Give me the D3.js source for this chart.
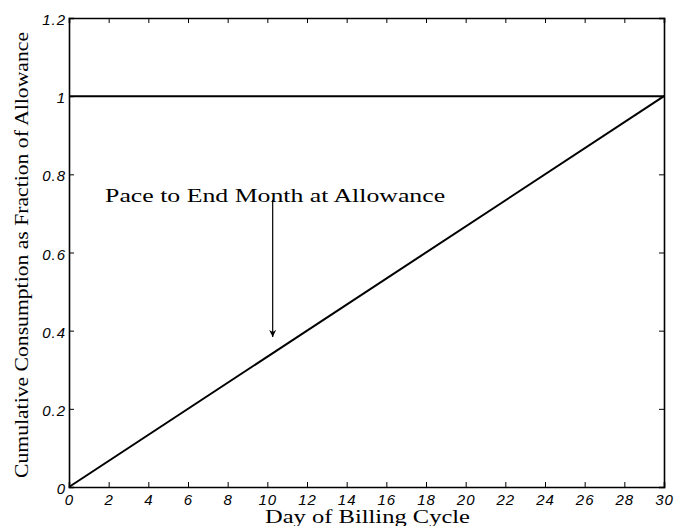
<!DOCTYPE html>
<html>
<head>
<meta charset="utf-8">
<script src="https://cdn.jsdelivr.net/npm/d3@7"></script>
<style>
  html, body { margin: 0; padding: 0; background: #fff; }
  svg { display: block; }
</style>
</head>
<body>
<svg id="chart" width="675" height="526"></svg>
<script>
// ---- data ----
const days = [0, 30];
const allowanceLine = [1, 1];
const paceLine = [0, 1];
const xTicks = [0, 2, 4, 6, 8, 10, 12, 14, 16, 18, 20, 22, 24, 26, 28, 30];
const yTicks = [0, 0.2, 0.4, 0.6, 0.8, 1, 1.2];
const yTickLabels = ["0", "0.2", "0.4", "0.6", "0.8", "1", "1.2"];
const annotationText = ["Pace to End Month at Allowance"];
const annotationPos = [1.82, 0.73];      // text start (day, fraction)
const arrowFrom = [10.27, 0.735];
const arrowTo = [10.27, 0.384];
const xTitle = "Day of Billing Cycle";
const yTitle = "Cumulative Consumption as Fraction of Allowance";

// ---- layout ----
const svg = d3.select("#chart");
const L = 69, R = 664, T = 18, B = 487;
const x = d3.scaleLinear().domain([0, 30]).range([L, R]);
const y = d3.scaleLinear().domain([0, 1.2]).range([B, T]);

const defs = svg.append("defs");
defs.append("marker")
  .attr("id", "arrow").attr("viewBox", "0 0 10 10")
  .attr("refX", 10).attr("refY", 5)
  .attr("markerWidth", 10).attr("markerHeight", 7)
  .attr("markerUnits", "userSpaceOnUse")
  .attr("orient", "auto")
  .append("path").attr("d", "M0,0 L10,5 L0,10 L3,5 Z").attr("fill", "#000");

// axes (ticks inward)
const tickLen = 5;

const gx = svg.append("g").attr("transform", `translate(0,${B})`)
  .call(d3.axisBottom(x).tickValues(xTicks).tickSize(-tickLen).tickPadding(8).tickFormat(d3.format("d")));
const gxTop = svg.append("g").attr("transform", `translate(0,${T})`)
  .call(d3.axisTop(x).tickValues(xTicks).tickSize(-tickLen).tickFormat(""));
const gy = svg.append("g").attr("transform", `translate(${L},0)`)
  .call(d3.axisLeft(y).tickValues(yTicks).tickSize(-tickLen).tickPadding(3).tickFormat((d, i) => yTickLabels[i]));
const gyR = svg.append("g").attr("transform", `translate(${R},0)`)
  .call(d3.axisRight(y).tickValues(yTicks).tickSize(-tickLen).tickFormat(""));

[gx, gxTop, gy, gyR].forEach(g => {
  g.attr("font-size", null).attr("font-family", null);
  g.select(".domain").attr("stroke", "#000").attr("stroke-width", 1.6);
  g.selectAll(".tick line").attr("stroke", "#000").attr("stroke-width", 1);
  g.selectAll(".tick text")
    .style("font-family", "'Liberation Sans', Arial, sans-serif")
    .style("font-size", "15px")
    .style("font-style", "italic")
    .style("letter-spacing", "1px")
    .attr("fill", "#000");
});
gx.selectAll(".tick text").attr("dy", 0).attr("y", 17.7);
gy.selectAll(".tick text").attr("dy", "0.44em");

// lines
const line = d3.line().x(d => x(d[0])).y(d => y(d[1]));
svg.append("path")
  .datum(days.map((d, i) => [d, allowanceLine[i]]))
  .attr("d", line).attr("fill", "none").attr("stroke", "#000").attr("stroke-width", 2);
svg.append("path")
  .datum(days.map((d, i) => [d, paceLine[i]]))
  .attr("d", line).attr("fill", "none").attr("stroke", "#000").attr("stroke-width", 2);

// annotation
const serif = "'Liberation Serif', 'Times New Roman', serif";
svg.append("text")
  .attr("x", x(annotationPos[0])).attr("y", y(annotationPos[1]))
  .attr("textLength", 340).attr("lengthAdjust", "spacingAndGlyphs")
  .style("font-family", serif).style("font-size", "18.5px").attr("fill", "#000")
  .text(annotationText[0]);
svg.append("line")
  .attr("x1", x(arrowFrom[0])).attr("y1", y(arrowFrom[1]))
  .attr("x2", x(arrowTo[0])).attr("y2", y(arrowTo[1]))
  .attr("stroke", "#000").attr("stroke-width", 1.2)
  .attr("marker-end", "url(#arrow)");

// axis titles
svg.append("text")
  .attr("x", 367.5).attr("y", 522.5).attr("text-anchor", "middle")
  .attr("textLength", 205).attr("lengthAdjust", "spacingAndGlyphs")
  .style("font-family", serif).style("font-size", "18px").attr("fill", "#000")
  .text(xTitle);
svg.append("text")
  .attr("transform", "translate(28,255) rotate(-90)").attr("text-anchor", "middle")
  .attr("textLength", 446).attr("lengthAdjust", "spacingAndGlyphs")
  .style("font-family", serif).style("font-size", "18px").attr("fill", "#000")
  .text(yTitle);
</script>
</body>
</html>
